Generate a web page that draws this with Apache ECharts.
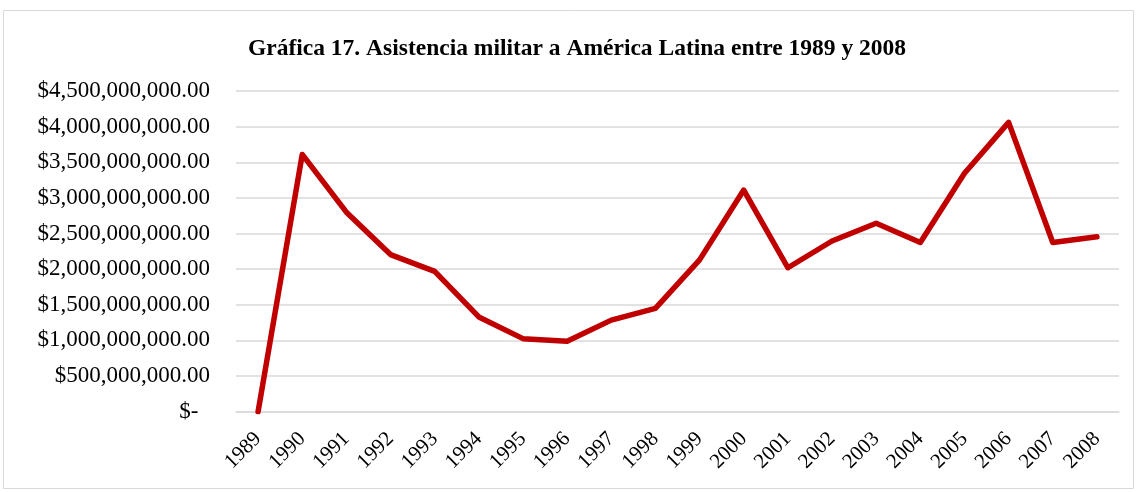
<!DOCTYPE html>
<html>
<head>
<meta charset="utf-8">
<script src="https://cdn.jsdelivr.net/npm/echarts@6/dist/echarts.min.js"></script>
<style>
html,body{margin:0;padding:0;background:#fff;}
#chart{width:1138px;height:492px;}
</style>
</head>
<body>
<div id="chart"></div>
<script>
const years = ['1989','1990','1991','1992','1993','1994','1995','1996','1997','1998','1999','2000','2001','2002','2003','2004','2005','2006','2007','2008'];
const assistance = [0, 3610000000, 2800000000, 2205000000, 1970000000, 1330000000, 1025000000, 990000000, 1285000000, 1450000000, 2130000000, 3110000000, 2020000000, 2395000000, 2645000000, 2375000000, 3345000000, 4060000000, 2375000000, 2455000000];
const titleText = 'Gráfica 17. Asistencia militar a América Latina entre 1989 y 2008';

function fmt(v){
  if (v === 0) return '$-  ';
  return '$' + v.toLocaleString('en-US', {minimumFractionDigits:2, maximumFractionDigits:2});
}

const chart = echarts.init(document.getElementById('chart'), null, {renderer:'canvas'});
chart.setOption({
  animation:false,
  backgroundColor:'#ffffff',
  graphic:[{
    type:'rect', silent:true, z:-1,
    shape:{x:3.5, y:10.5, width:1130, height:478},
    style:{fill:'none', stroke:'#d9d9d9', lineWidth:1}
  }],
  title:{
    text:titleText,
    left:243, top:32,
    textStyle:{fontFamily:'Liberation Serif', fontWeight:'bold', fontSize:23.5, color:'#000'}
  },
  grid:{left:236, right:19, top:91, bottom:80.3, containLabel:false},
  xAxis:{
    type:'category',
    data:years,
    boundaryGap:true,
    axisLine:{show:true, lineStyle:{color:'#d9d9d9', width:1.5}},
    axisTick:{show:false},
    axisLabel:{rotate:45, margin:24, interval:0, fontFamily:'Liberation Serif', fontSize:21, color:'#000'}
  },
  yAxis:{
    type:'value',
    min:0, max:4500000000, interval:500000000,
    axisLine:{show:false},
    axisTick:{show:false},
    splitLine:{show:true, lineStyle:{color:'#d9d9d9', width:1.5}},
    axisLabel:{formatter:fmt, margin:26, fontFamily:'Liberation Serif', fontSize:23, color:'#000'}
  },
  series:[{
    type:'line',
    data:assistance,
    symbol:'none',
    lineStyle:{color:'#C00000', width:5.5, cap:'round', join:'round'},
    itemStyle:{color:'#C00000'}
  }]
});
</script>
</body>
</html>
